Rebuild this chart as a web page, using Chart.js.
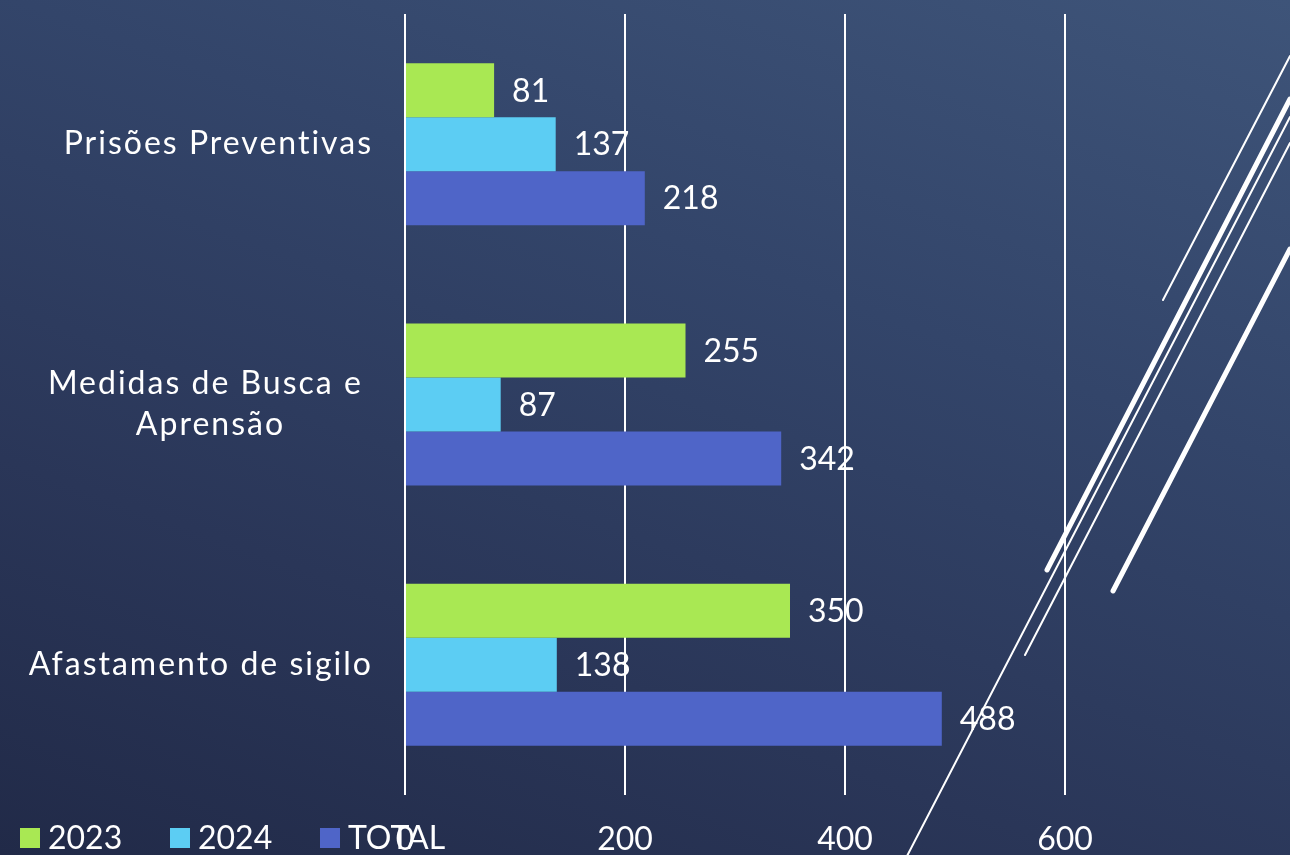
<!DOCTYPE html>
<html>
<head>
<meta charset="utf-8">
<script src="https://cdn.jsdelivr.net/npm/chart.js@4.4.1/dist/chart.umd.min.js"></script>
<style>
  html, body { margin: 0; padding: 0; }
  body {
    width: 1290px; height: 855px; overflow: hidden;
    background: linear-gradient(200deg, #3e5479 0%, #33456a 35%, #2a3658 70%, #212a48 100%);
  }
  #wrap { width: 1290px; height: 855px; position: relative; }
</style>
</head>
<body>
<div id="wrap"><canvas id="barChart" width="1290" height="855"></canvas></div>
<script>
const categories = ['Prisões Preventivas', ['Medidas de Busca e ', 'Aprensão'], 'Afastamento de sigilo'];
const seriesNames = ['2023', '2024', 'TOTAL'];
const values2023 = [81, 255, 350];
const values2024 = [137, 87, 138];
const valuesTotal = [218, 342, 488];
const tickValues = [0, 200, 400, 600];
const seriesColors = ['#a9e853', '#5ccdf3', '#4f65c8'];
const axisMax = 800;

const fontFamily = 'Lato, "Noto Sans", sans-serif';
const fontSize = 32;

// diagonal slide decoration (background, not data)
const slideLines = [
    { from: [1163, 300], to: [1290, 56], w: 2 },
    { from: [1047, 570], to: [1290, 99], w: 5 },
    { from: [906, 858], to: [1290, 117], w: 2 },
    { from: [1025, 655], to: [1290, 143], w: 2 },
    { from: [1113, 591], to: [1290, 249], w: 5 },
];

const decoPlugin = {
    id: 'deco',
    beforeDraw(chart) {
        const ctx = chart.ctx;
        ctx.save();
        ctx.strokeStyle = '#ffffff';
        ctx.lineCap = 'round';
        slideLines.forEach((l) => {
            ctx.lineWidth = l.w;
            ctx.beginPath();
            ctx.moveTo(l.from[0], l.from[1]);
            ctx.lineTo(l.to[0], l.to[1]);
            ctx.stroke();
        });
        ctx.restore();
    }
};

const labelsPlugin = {
    id: 'labels',
    afterDatasetsDraw(chart) {
        const ctx = chart.ctx;
        ctx.save();
        ctx.fillStyle = '#ffffff';
        ctx.font = `${fontSize}px ${fontFamily}`;
        ctx.textBaseline = 'middle';
        ctx.textAlign = 'left';
        chart.data.datasets.forEach((ds, i) => {
            const meta = chart.getDatasetMeta(i);
            meta.data.forEach((bar, j) => {
                ctx.fillText(String(ds.data[j]), bar.x + 18, bar.y + 1);
            });
        });

        // legend bottom-left
        seriesNames.forEach((name, i) => {
            const x = 20 + i * 150;
            ctx.fillStyle = seriesColors[i];
            ctx.fillRect(x, 828, 20, 20);
            ctx.fillStyle = '#ffffff';
            ctx.fillText(name, x + 28, 839);
        });

        // category labels on the left (wider spacing, closer to the original face)
        const yScale = chart.scales.y;
        const rightEdge = 373;
        const lineGap = 41;
        ctx.letterSpacing = '2px';
        ctx.textAlign = 'center';
        categories.forEach((cat, idx) => {
            const lines = Array.isArray(cat) ? cat : [cat];
            const cy = yScale.getPixelForValue(idx);
            const widest = Math.max(...lines.map((t) => ctx.measureText(t).width));
            const centerX = rightEdge - widest / 2;
            lines.forEach((t, k) => {
                const y = cy + (k - (lines.length - 1) / 2) * lineGap;
                ctx.fillText(t, centerX, y);
            });
        });
        ctx.restore();
    }
};

const chartCtx = document.getElementById('barChart').getContext('2d');
const barChart = new Chart(chartCtx, {
    type: 'bar',
    data: {
        labels: categories,
        datasets: [
            { label: seriesNames[0], data: values2023, backgroundColor: seriesColors[0] },
            { label: seriesNames[1], data: values2024, backgroundColor: seriesColors[1] },
            { label: seriesNames[2], data: valuesTotal, backgroundColor: seriesColors[2] },
        ]
    },
    options: {
        indexAxis: 'y',
        responsive: false,
        animation: false,
        layout: { padding: { left: 0, top: 14, right: 5, bottom: 0 } },
        datasets: { bar: { categoryPercentage: 0.622, barPercentage: 1 } },
        plugins: {
            legend: { display: false },
            tooltip: { enabled: false },
        },
        scales: {
            x: {
                min: 0,
                max: axisMax,
                afterFit(scale) { scale.height = 60; },
                afterBuildTicks(scale) {
                    scale.ticks = tickValues.map((v) => ({ value: v }));
                },
                border: { display: false },
                grid: {
                    drawTicks: false,
                    lineWidth: 2,
                    color: '#ffffff',
                },
                ticks: {
                    padding: 25,
                    color: '#ffffff',
                    font: { family: fontFamily, size: fontSize },
                    maxRotation: 0,
                },
            },
            y: {
                afterFit(scale) { scale.width = 405; },
                border: { display: false },
                grid: { display: false },
                ticks: { display: false },
            }
        }
    },
    plugins: [decoPlugin, labelsPlugin]
});
</script>
</body>
</html>
